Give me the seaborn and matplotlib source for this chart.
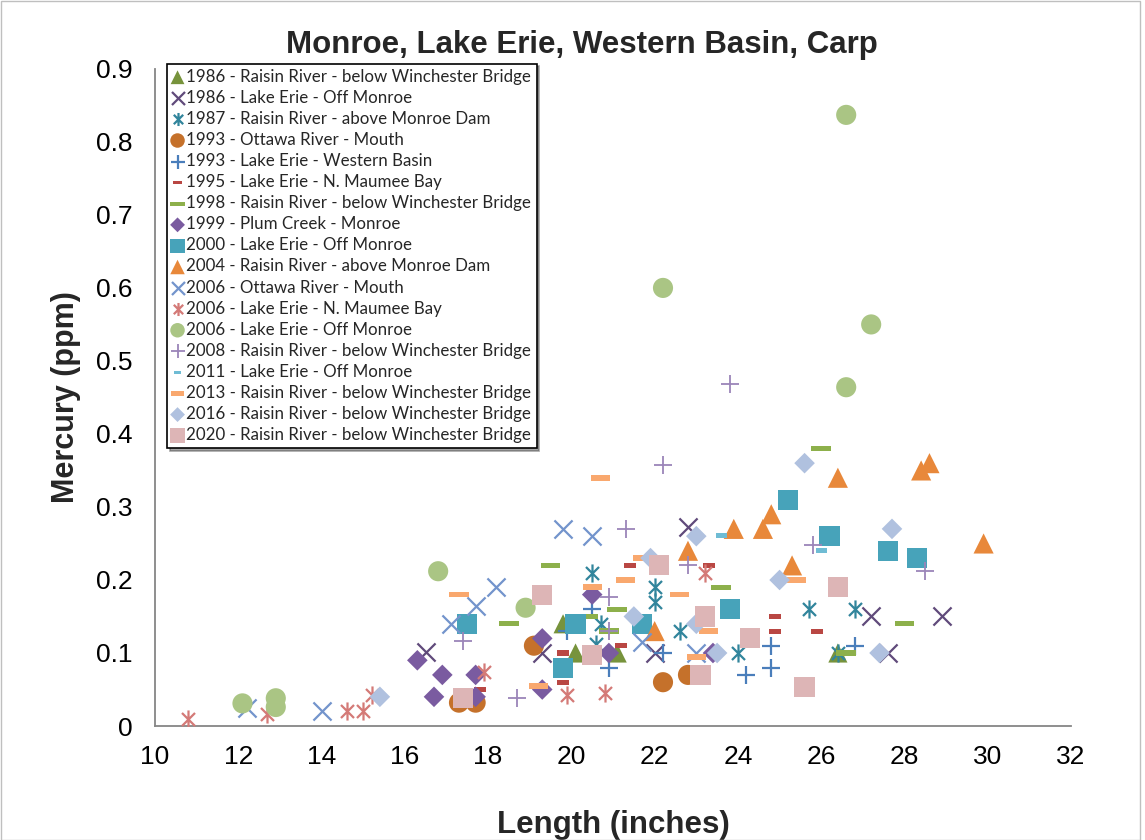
import matplotlib
matplotlib.use("Agg")
import matplotlib.pyplot as plt
import seaborn as sns
import pandas as pd
from matplotlib.path import Path
from matplotlib.patches import Rectangle

# ---------------- data ----------------
series_labels = [
    "1986 - Raisin River - below Winchester Bridge",
    "1986 - Lake Erie - Off Monroe",
    "1987 - Raisin River - above Monroe Dam",
    "1993 - Ottawa River - Mouth",
    "1993 - Lake Erie - Western Basin",
    "1995 - Lake Erie - N. Maumee Bay",
    "1998 - Raisin River - below Winchester Bridge",
    "1999 - Plum Creek - Monroe",
    "2000 - Lake Erie - Off Monroe",
    "2004 - Raisin River - above Monroe Dam",
    "2006 - Ottawa River - Mouth",
    "2006 - Lake Erie - N. Maumee Bay",
    "2006 - Lake Erie - Off Monroe",
    "2008 - Raisin River - below Winchester Bridge",
    "2011 - Lake Erie - Off Monroe",
    "2013 - Raisin River - below Winchester Bridge",
    "2016 - Raisin River - below Winchester Bridge",
    "2020 - Raisin River - below Winchester Bridge",
]

len_1986_rr = [19.8, 20.1, 21.1, 26.4]
hg_1986_rr = [0.14, 0.10, 0.10, 0.10]
len_1986_le = [16.5, 19.3, 22.8, 22.0, 27.2, 28.9, 27.6]
hg_1986_le = [0.101, 0.10, 0.273, 0.10, 0.15, 0.15, 0.10]
len_1987_rr = [20.5, 20.7, 22.0, 22.0, 22.6, 24.0, 25.7, 26.8, 26.4, 20.6]
hg_1987_rr = [0.21, 0.14, 0.19, 0.17, 0.13, 0.10, 0.16, 0.16, 0.10, 0.113]
len_1993_or = [19.1, 17.3, 17.7, 22.2, 22.8]
hg_1993_or = [0.11, 0.032, 0.032, 0.06, 0.07]
len_1993_le = [20.5, 20.9, 22.2, 24.2, 24.8, 24.8, 26.8, 19.9]
hg_1993_le = [0.16, 0.08, 0.10, 0.07, 0.11, 0.08, 0.11, 0.13]
len_1995_le = [17.8, 19.8, 19.8, 21.4, 21.2, 23.3, 24.9, 24.9, 25.9]
hg_1995_le = [0.05, 0.10, 0.06, 0.22, 0.11, 0.22, 0.15, 0.13, 0.13]
len_1998_rr = [19.5, 18.5, 20.4, 23.6, 21.1, 20.9, 26.0, 28.0, 26.6]
hg_1998_rr = [0.22, 0.14, 0.15, 0.19, 0.16, 0.13, 0.38, 0.14, 0.10]
len_1999_pc = [16.3, 16.9, 17.7, 16.7, 17.7, 19.3, 19.3, 20.5, 20.9, 23.4]
hg_1999_pc = [0.09, 0.07, 0.07, 0.04, 0.04, 0.12, 0.05, 0.18, 0.10, 0.10]
len_2000_le = [17.5, 20.1, 19.8, 21.7, 23.8, 25.2, 26.2, 27.6, 28.3]
hg_2000_le = [0.14, 0.14, 0.08, 0.14, 0.16, 0.31, 0.26, 0.24, 0.23]
len_2004_rr = [22.8, 23.9, 24.6, 24.8, 22.0, 26.4, 28.4, 28.6, 25.3, 29.9]
hg_2004_rr = [0.24, 0.27, 0.27, 0.29, 0.13, 0.34, 0.35, 0.36, 0.22, 0.25]
len_2006_or = [12.2, 14.0, 17.1, 17.7, 18.2, 19.8, 20.5, 21.7, 23.0]
hg_2006_or = [0.025, 0.02, 0.14, 0.165, 0.19, 0.27, 0.26, 0.115, 0.10]
len_2006_mb = [10.8, 12.7, 14.6, 15.0, 15.2, 17.9, 19.9, 20.8, 23.2]
hg_2006_mb = [0.01, 0.016, 0.02, 0.02, 0.043, 0.074, 0.042, 0.045, 0.21]
len_2006_le = [26.6, 22.2, 27.2, 26.6, 16.8, 18.9, 12.1, 12.9, 12.9]
hg_2006_le = [0.837, 0.60, 0.55, 0.464, 0.212, 0.162, 0.031, 0.038, 0.026]
len_2008_rr = [23.8, 22.2, 17.4, 18.7, 21.3, 20.9, 20.9, 22.8, 25.8, 28.5]
hg_2008_rr = [0.468, 0.358, 0.116, 0.038, 0.27, 0.177, 0.13, 0.22, 0.248, 0.212]
len_2011_le = [23.6, 26.0]
hg_2011_le = [0.261, 0.24]
len_2013_rr = [17.3, 19.2, 20.5, 20.7, 21.3, 21.7, 22.6, 23.0, 23.3, 25.4]
hg_2013_rr = [0.18, 0.055, 0.19, 0.34, 0.20, 0.23, 0.18, 0.095, 0.13, 0.20]
len_2016_rr = [15.4, 23.0, 21.9, 21.5, 23.5, 23.0, 25.6, 27.7, 25.0, 27.4]
hg_2016_rr = [0.04, 0.26, 0.23, 0.15, 0.10, 0.14, 0.36, 0.27, 0.20, 0.10]
len_2020_rr = [19.3, 17.4, 20.5, 22.1, 23.2, 24.3, 23.1, 26.4, 25.6]
hg_2020_rr = [0.18, 0.038, 0.097, 0.22, 0.15, 0.12, 0.07, 0.19, 0.053]

x_ticks = [10, 12, 14, 16, 18, 20, 22, 24, 26, 28, 30, 32]
y_ticks = [0, 0.1, 0.2, 0.3, 0.4, 0.5, 0.6, 0.7, 0.8, 0.9]
y_tick_labels = ["0", "0.1", "0.2", "0.3", "0.4", "0.5", "0.6", "0.7", "0.8", "0.9"]

all_lengths = [len_1986_rr, len_1986_le, len_1987_rr, len_1993_or, len_1993_le,
               len_1995_le, len_1998_rr, len_1999_pc, len_2000_le, len_2004_rr,
               len_2006_or, len_2006_mb, len_2006_le, len_2008_rr, len_2011_le,
               len_2013_rr, len_2016_rr, len_2020_rr]
all_hg = [hg_1986_rr, hg_1986_le, hg_1987_rr, hg_1993_or, hg_1993_le,
          hg_1995_le, hg_1998_rr, hg_1999_pc, hg_2000_le, hg_2004_rr,
          hg_2006_or, hg_2006_mb, hg_2006_le, hg_2008_rr, hg_2011_le,
          hg_2013_rr, hg_2016_rr, hg_2020_rr]

# ---------------- marker shapes ----------------
def dash(h):
    return Path([(-1, -h), (1, -h), (1, h), (-1, h), (-1, -h)],
                [Path.MOVETO, Path.LINETO, Path.LINETO, Path.LINETO, Path.CLOSEPOLY])

asterisk = Path([(0, -1), (0, 1), (-0.72, -0.72), (0.72, 0.72), (-0.72, 0.72), (0.72, -0.72)],
                [Path.MOVETO, Path.LINETO, Path.MOVETO, Path.LINETO, Path.MOVETO, Path.LINETO])

# (marker, color, size, kind, linewidth)
styles = [
    ("^", "#77933C", 190, "fill", 0),
    ("x", "#604A7B", 170, "line", 1.6),
    (asterisk, "#31859C", 170, "line", 1.6),
    ("o", "#C5712B", 210, "fill", 0),
    ("+", "#4A7EBB", 180, "line", 1.6),
    (dash(0.42), "#B94743", 75, "fill", 0),
    (dash(0.27), "#8DB04B", 200, "fill", 0),
    ("D", "#7A5BA0", 110, "fill", 0),
    ("s", "#47A3BA", 210, "fill", 0),
    ("^", "#E8883A", 210, "fill", 0),
    ("x", "#7394CC", 170, "line", 1.6),
    (asterisk, "#D47A77", 170, "line", 1.6),
    ("o", "#AAC584", 210, "fill", 0),
    ("+", "#9B85B9", 170, "line", 1.3),
    (dash(0.45), "#6FBCD4", 60, "fill", 0),
    (dash(0.3), "#F9A86E", 190, "fill", 0),
    ("D", "#B0C1DF", 110, "fill", 0),
    ("s", "#DDB5B6", 210, "fill", 0),
]

# ---------------- plot ----------------
sns.set_style("white")
plt.rcParams["font.family"] = ["Liberation Sans", "DejaVu Sans"]

fig = plt.figure(figsize=(11.45, 8.4), dpi=100)
ax = fig.add_axes([0.1354, 0.1357, 0.8, 0.7823])

for lab, xs, ys, (mk, col, sz, kind, lw) in zip(series_labels, all_lengths, all_hg, styles):
    df = pd.DataFrame({"Length": xs, "Mercury": ys})
    if kind == "fill":
        sns.scatterplot(data=df, x="Length", y="Mercury", ax=ax, marker=mk, s=sz,
                        color=col, edgecolor="none", linewidth=0, label=lab, zorder=3)
    else:
        sns.scatterplot(data=df, x="Length", y="Mercury", ax=ax, marker=mk, s=sz,
                        color=col, edgecolor=col, linewidth=lw, label=lab, zorder=3)

ax.set_xlim(10, 32)
ax.set_ylim(0, 0.9)
ax.set_xticks(x_ticks)
ax.set_yticks(y_ticks)
ax.set_yticklabels(y_tick_labels)
ax.tick_params(axis="both", labelsize=19, colors="#868686", labelcolor="black",
               direction="out", length=6, width=1.3)
ax.tick_params(axis="y", pad=10)
ax.tick_params(axis="x", pad=8)
for side in ["top", "right"]:
    ax.spines[side].set_visible(False)
for side in ["left", "bottom"]:
    ax.spines[side].set_color("#868686")
    ax.spines[side].set_linewidth(1.3)

ax.set_xlabel("Length (inches)", fontsize=22.5, fontweight="bold", labelpad=29)
ax.set_ylabel("Mercury (ppm)", fontsize=22, fontweight="bold", labelpad=11)
fig.text(0.508, 0.946, "Monroe, Lake Erie, Western Basin, Carp", fontsize=22.5,
         fontweight="bold", ha="center", va="center")

leg = ax.legend(loc="upper left", bbox_to_anchor=(0.013, 1.008),
                prop={"family": ["Lato", "DejaVu Sans"], "size": 12.2},
                markerscale=0.72, handlelength=0.65, handletextpad=0.2,
                labelspacing=0.3, borderpad=0.3, borderaxespad=0,
                frameon=True, fancybox=False, shadow=True, framealpha=1)
leg.get_frame().set_edgecolor("black")
leg.get_frame().set_linewidth(1.2)
leg.set_zorder(5)

fig.patches.append(Rectangle((0.0005, 0.0005), 0.995, 0.998, transform=fig.transFigure,
                             fill=False, edgecolor="#bfbfbf", linewidth=1.0))

fig.savefig("out.png", dpi=100)
